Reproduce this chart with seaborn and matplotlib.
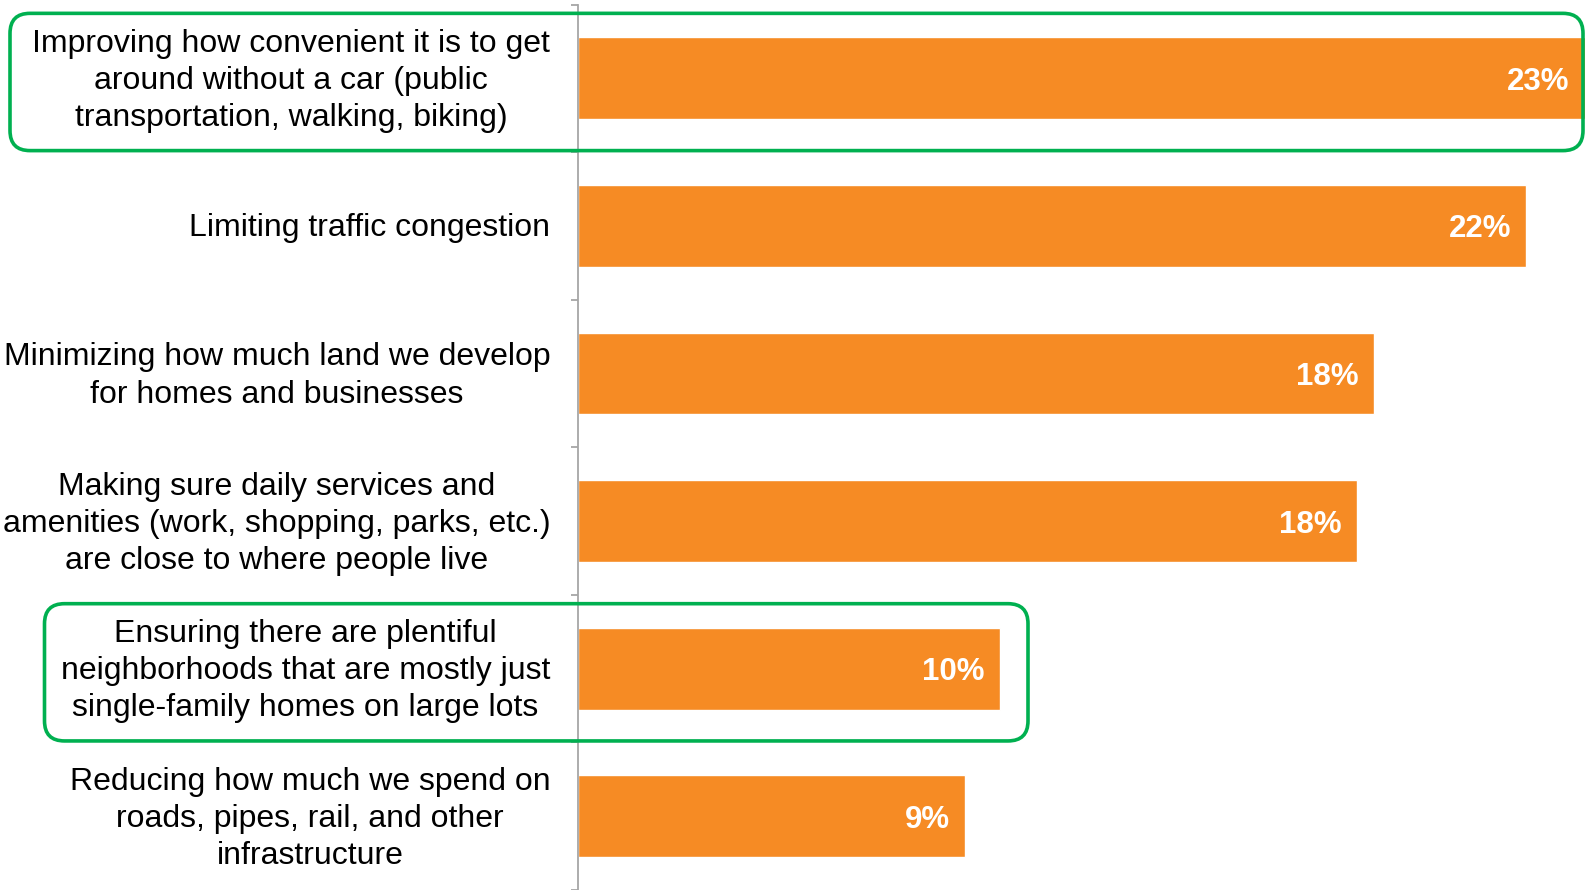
import matplotlib
matplotlib.use("Agg")
import matplotlib.pyplot as plt
from matplotlib.patches import FancyBboxPatch
from matplotlib.ticker import FixedLocator
from matplotlib.transforms import IdentityTransform, ScaledTranslation
import seaborn as sns
import pandas as pd

# Survey priorities and share of respondents choosing each one (%)
categories = [
    "Improving how convenient it is to get\naround without a car (public\ntransportation, walking, biking)",
    "Limiting traffic congestion",
    "Minimizing how much land we develop\nfor homes and businesses",
    "Making sure daily services and\namenities (work, shopping, parks, etc.)\nare close to where people live",
    "Ensuring there are plentiful\nneighborhoods that are mostly just\nsingle-family homes on large lots",
    "Reducing how much we spend on\nroads, pipes, rail, and other\ninfrastructure",
]
shares = [23.3, 21.8, 18.3, 17.9, 9.7, 8.9]
highlighted = [0, 4]

ORANGE = "#F68B24"
GREEN = "#00B050"
AXIS_GREY = "#A6A6A6"

sns.set_theme(style="white")
plt.rcParams["font.family"] = ["Liberation Sans", "DejaVu Sans"]

df = pd.DataFrame({"category": categories, "share": shares})

fig = plt.figure(figsize=(15.85, 8.9), dpi=100)
ax = fig.add_axes([578 / 1585, 0.0, 1 - 578 / 1585, 1 - 4.5 / 890])

sns.barplot(data=df, x="share", y="category", color=ORANGE, saturation=1,
            width=0.555, ax=ax, orient="h")

ax.set_xlim(0, 23.15)
ax.set_ylim(len(categories) - 0.5, -0.5)
ax.set_xlabel("")
ax.set_ylabel("")
ax.set_xticks([])

for s in ["top", "right", "bottom"]:
    ax.spines[s].set_visible(False)
ax.spines["left"].set_color(AXIS_GREY)
ax.spines["left"].set_linewidth(1.3)

ax.yaxis.set_minor_locator(FixedLocator([i - 0.5 for i in range(len(categories) + 1)]))
ax.tick_params(axis="y", which="major", length=0, pad=20, labelsize=23, labelcolor="black")
ax.tick_params(axis="y", which="minor", length=5, width=1.3, color=AXIS_GREY, left=True)
nudge = ScaledTranslation(0, -0.026, fig.dpi_scale_trans)
for lbl in ax.get_yticklabels():
    lbl.set_multialignment("center")
    lbl.set_verticalalignment("center")
    lbl.set_linespacing(1.31)
    lbl.set_transform(lbl.get_transform() + nudge)

# value labels inside the bar ends
for i, v in enumerate(shares):
    ax.annotate(f"{v:.0f}%", xy=(min(v, 23.15), i), xytext=(-11, 0),
                textcoords="offset points", ha="right", va="center_baseline",
                color="white", fontsize=22.5, fontweight="bold")

# green rounded frames around the highlighted priorities
fig.canvas.draw()
frame_right = {0: 1583, 4: 1028}
frame_left = {0: 10, 4: 44.5}
for i in highlighted:
    _, y_top = ax.transData.transform((0, i - 0.44))
    _, y_bot = ax.transData.transform((0, i + 0.49))
    x0, x1 = frame_left[i], frame_right[i]
    rad = 20
    box = FancyBboxPatch((x0 + rad, y_bot + rad), (x1 - x0) - 2 * rad,
                         (y_top - y_bot) - 2 * rad,
                         boxstyle=f"round,pad={rad}", transform=IdentityTransform(),
                         facecolor="none", edgecolor=GREEN, linewidth=2.6,
                         clip_on=False, zorder=5)
    fig.patches.append(box)

fig.savefig("out.png", dpi=100)
